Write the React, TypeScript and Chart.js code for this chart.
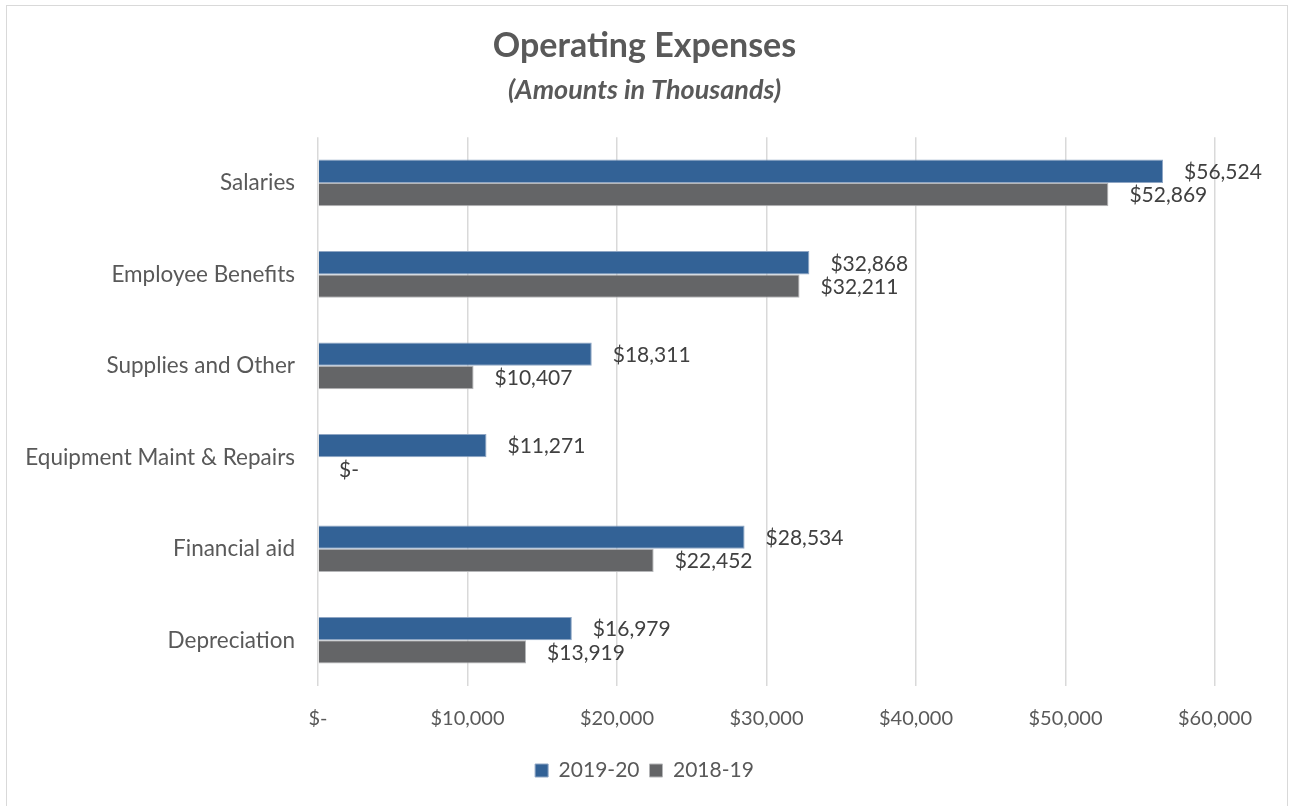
import React, { useEffect, useRef } from "react";
import { Chart, registerables } from "chart.js";

Chart.register(...registerables);

const categories = [
  "Salaries",
  "Employee Benefits",
  "Supplies and Other",
  "Equipment Maint & Repairs",
  "Financial aid",
  "Depreciation",
];
const series2019 = [56524, 32868, 18311, 11271, 28534, 16979];
const series2018 = [52869, 32211, 10407, 0, 22452, 13919];
const seriesLabels = ["2019-20", "2018-19"];
const xMax = 60000;
const xStep = 10000;

const FONT = "Lato, 'Open Sans', sans-serif";
const BLUE = "#336296";
const GRAY = "#646567";

const fmt = (v: number) => (v === 0 ? "$-" : "$" + v.toLocaleString("en-US"));

const dataLabelPlugin = {
  id: "dataLabels",
  afterDatasetsDraw(chart: any) {
    const ctx = chart.ctx;
    ctx.save();
    ctx.font = `21px ${FONT}`;
    ctx.fillStyle = "#404040";
    ctx.textAlign = "left";
    ctx.textBaseline = "middle";
    chart.data.datasets.forEach((ds: any, di: number) => {
      const meta = chart.getDatasetMeta(di);
      meta.data.forEach((bar: any, i: number) => {
        const v = ds.data[i];
        ctx.fillText(fmt(v), bar.x + 21, bar.y + 1);
      });
    });
    ctx.restore();
  },
};

export default function App() {
  const ref = useRef<HTMLCanvasElement | null>(null);
  useEffect(() => {
    document.body.style.margin = "0";
    document.body.style.overflow = "hidden";
    const chart = new Chart(ref.current!, {
      type: "bar",
      data: {
        labels: categories,
        datasets: [
          {
            label: seriesLabels[0],
            data: series2019,
            backgroundColor: BLUE,
            borderColor: "#8fa6c4",
            borderWidth: 1,
            barPercentage: 1,
            categoryPercentage: 0.51,
          },
          {
            label: seriesLabels[1],
            data: series2018,
            backgroundColor: GRAY,
            borderColor: "#b5b6b8",
            borderWidth: 1,
            barPercentage: 1,
            categoryPercentage: 0.51,
          },
        ],
      },
      options: {
        indexAxis: "y",
        animation: false,
        responsive: true,
        maintainAspectRatio: false,
        layout: { padding: { left: 0, right: 0, top: 0, bottom: 15 } },
        plugins: {
          title: {
            display: true,
            text: "Operating Expenses",
            color: "#595959",
            font: { family: FONT, size: 34, weight: "bold" },
            padding: { top: 26, bottom: 7 },
          },
          subtitle: {
            display: true,
            text: "(Amounts in Thousands)",
            color: "#595959",
            font: { family: FONT, size: 27, weight: "bold", style: "italic" },
            padding: { top: 0, bottom: 31 },
          },
          legend: {
            position: "bottom",
            labels: {
              color: "#595959",
              font: { family: FONT, size: 21 },
              boxWidth: 13,
              boxHeight: 13,
              padding: 10,
            },
          },
          tooltip: { enabled: false },
        },
        scales: {
          x: {
            min: 0,
            max: xMax,
            ticks: {
              stepSize: xStep,
              color: "#595959",
              font: { family: FONT, size: 20 },
              padding: 21,
              callback: (v: any) => fmt(Number(v)),
            },
            grid: { color: "#d9d9d9", lineWidth: 1.5, drawTicks: false },
            border: { display: false },
            afterFit: (s: any) => {
              s.height = 64;
            },
          },
          y: {
            ticks: {
              color: "#595959",
              font: { family: FONT, size: 22.5 },
              padding: 23,
            },
            grid: { display: false, drawTicks: false },
            border: { display: false },
            afterFit: (s: any) => {
              s.width = 318;
            },
          },
          yRight: {
            position: "right",
            display: true,
            ticks: { display: false },
            grid: { display: false, drawTicks: false },
            border: { display: false },
            afterFit: (s: any) => {
              s.width = 74;
            },
          },
        },
      },
      plugins: [dataLabelPlugin],
    } as any);
    return () => chart.destroy();
  }, []);
  return (
    <div
      style={{
        position: "fixed",
        left: 0,
        top: 0,
        width: 1289,
        height: 806,
        overflow: "hidden",
        background: "#fff",
      }}
    >
      <div
        style={{
          position: "absolute",
          left: 6,
          top: 5,
          width: 1282,
          height: 820,
          border: "1.5px solid #d9d9d9",
          boxSizing: "border-box",
        }}
      />
      <div style={{ position: "absolute", left: 0, top: 0, width: 1289, height: 806 }}>
        <canvas ref={ref} />
      </div>
    </div>
  );
}
